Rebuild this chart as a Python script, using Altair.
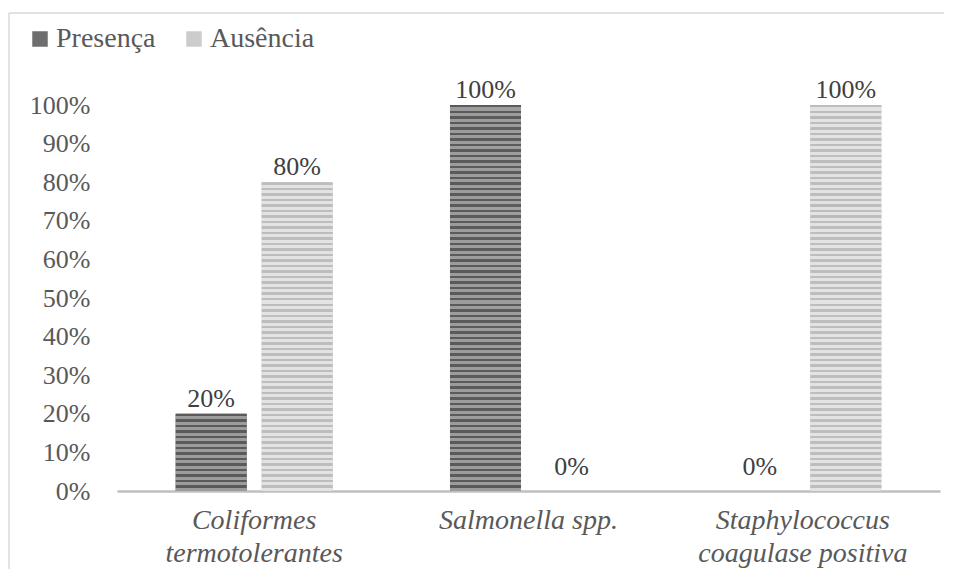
import altair as alt
import pandas as pd

categories = ["Coliformes\ntermotolerantes", "Salmonella spp.", "Staphylococcus\ncoagulase positiva"]
series = ["Presença", "Ausência"]
presenca = [20, 100, 0]
ausencia = [80, 0, 100]

rows = []
for c, p, a in zip(categories, presenca, ausencia):
    rows.append({"cat": c, "serie": "Presença", "valor": p, "rot": f"{p}%"})
    rows.append({"cat": c, "serie": "Ausência", "valor": a, "rot": f"{a}%"})
df = pd.DataFrame(rows)

W, H = 823, 386
FONT = "Liberation Serif"
stripe_cols = {"Presença": ("#5a5a5a", "#9c9c9c"), "Ausência": ("#bdbdbd", "#e3e3e3")}
solid_cols = ["#6e6e6e", "#cccccc"]

x_enc = alt.X("cat:N", sort=categories, scale=alt.Scale(domain=categories, paddingInner=0, paddingOuter=0),
              axis=alt.Axis(title=None, labelExpr="split(datum.label, '\\n')", labelAngle=0,
                            labelFontStyle="italic", labelFontSize=28, labelFont=FONT, labelColor="#595959",
                            labelLineHeight=33, labelPadding=15, labelLimit=0, ticks=False,
                            domainColor="#bfbfbf", domainWidth=2.5, grid=False))
xo_enc = alt.XOffset("serie:N", sort=series, scale=alt.Scale(domain=series, paddingInner=0.174, paddingOuter=0.682))
y_enc = alt.Y("valor:Q", scale=alt.Scale(domain=[0, 100], nice=False),
              axis=alt.Axis(title=None, values=list(range(0, 101, 10)), labelExpr="datum.value + '%'",
                            labelFontSize=26, labelFont=FONT, labelColor="#595959", labelPadding=27,
                            ticks=False, domain=False, grid=False))

base = alt.Chart(df).encode(x=x_enc, xOffset=xo_enc, y=y_enc)

solid = base.mark_bar().encode(
    color=alt.Color("serie:N", sort=series, scale=alt.Scale(domain=series, range=solid_cols),
                    legend=alt.Legend(title=None, orient="none", direction="horizontal", legendX=-91, legendY=-80,
                                      symbolType="square", symbolSize=240, symbolStrokeWidth=0,
                                      labelFont=FONT, labelFontSize=28, labelColor="#595959",
                                      labelOffset=2, columnPadding=24))
)

layers = [solid]
for c, p, a in zip(categories, presenca, ausencia):
    for s, v in (("Presença", p), ("Ausência", a)):
        if v <= 0:
            continue
        n = max(1, round(v / 100 * H / 5.5))
        ca, cb = stripe_cols[s]
        stops = []
        for i in range(n):
            stops += [alt.GradientStop(offset=i / n, color=ca), alt.GradientStop(offset=(i + 0.45) / n, color=ca),
                      alt.GradientStop(offset=(i + 0.45) / n, color=cb), alt.GradientStop(offset=(i + 1) / n, color=cb)]
        grad = alt.LinearGradient(gradient="linear", stops=stops, x1=0, x2=0, y1=0, y2=1)
        layers.append(base.transform_filter((alt.datum.cat == c) & (alt.datum.serie == s)).mark_bar(color=grad))

txt_nz = base.transform_filter(alt.datum.valor > 0).mark_text(
    baseline="alphabetic", dy=-7, font=FONT, fontSize=26, color="#404040").encode(text="rot:N")
txt_z = base.transform_filter(alt.datum.valor == 0).mark_text(
    baseline="alphabetic", dy=-16, font=FONT, fontSize=26, color="#404040").encode(text="rot:N")

one = alt.Chart(pd.DataFrame({"a": [0]}))
frame_top = one.mark_rule(color="#d9d9d9", strokeWidth=1.5).encode(
    x=alt.value(-108), x2=alt.value(1000), y=alt.value(-92))
frame_left = one.mark_rule(color="#d9d9d9", strokeWidth=1.5).encode(
    x=alt.value(-108), y=alt.value(-92), y2=alt.value(700))

chart = alt.layer(frame_top, frame_left, *layers, txt_nz, txt_z).properties(
    width=W, height=H,
    autosize=alt.AutoSizeParams(type="none"),
    padding={"left": 109, "top": 97, "right": 4, "bottom": 78},
).configure_view(stroke=None)

chart.save("out.html", embed_options={"renderer": "svg", "actions": False})
